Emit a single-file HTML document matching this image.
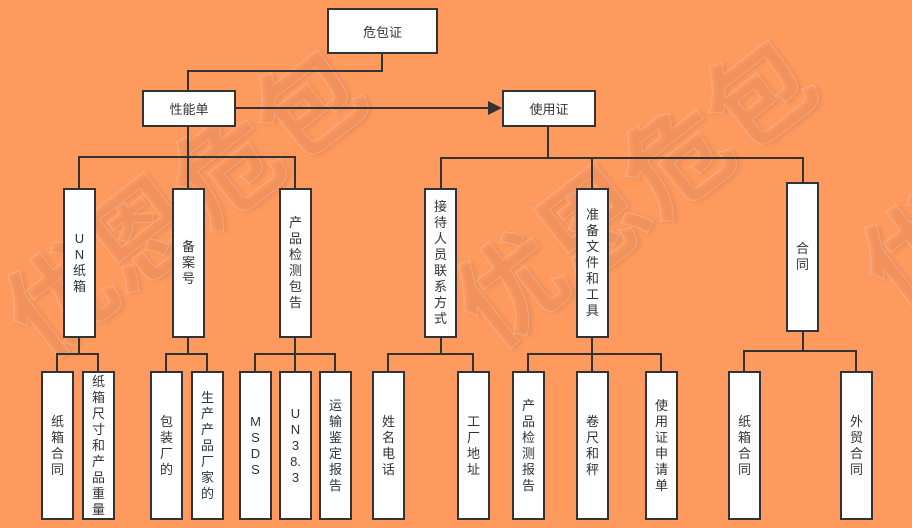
<!DOCTYPE html>
<html><head><meta charset="utf-8"><style>
body{margin:0;width:912px;height:528px;overflow:hidden;background:#FF9A5E;position:relative;font-family:"Liberation Sans","Noto Sans CJK SC",sans-serif;}
.b{position:absolute;background:#fff;border:2px solid #333;box-sizing:border-box;display:flex;align-items:center;justify-content:center;color:#333;font-size:13px;}
.v{flex-direction:column;line-height:16px;font-size:13px;text-align:center}
.h{position:absolute;background:#333;height:2px}
.l{position:absolute;background:#333;width:2px}
.wm{position:absolute;font-size:105px;font-weight:bold;color:rgba(255,160,110,0.3);-webkit-text-stroke:1px rgba(235,215,205,0.35);text-shadow:2px 3px 4px rgba(120,60,30,0.15);transform:rotate(-38deg);white-space:nowrap;font-family:"Noto Sans CJK SC",sans-serif;}
</style></head><body>
<div class="wm" style="left:-30px;top:120px">优恩危包</div>
<div class="wm" style="left:420px;top:110px">优恩危包</div>
<div class="wm" style="left:860px;top:170px">优</div>

<!-- connectors -->
<div class="l" style="left:381px;top:53px;height:19px"></div>
<div class="h" style="left:187px;top:70px;width:196px"></div>
<div class="l" style="left:187px;top:70px;height:20px"></div>
<div class="h" style="left:235px;top:107px;width:256px"></div>
<svg style="position:absolute;left:488px;top:101px" width="14" height="14"><polygon points="0,0 14,7 0,14" fill="#333"/></svg>

<div class="l" style="left:187px;top:126px;height:31px"></div>
<div class="h" style="left:78px;top:156px;width:218px"></div>
<div class="l" style="left:78px;top:156px;height:32px"></div>
<div class="l" style="left:187px;top:156px;height:32px"></div>
<div class="l" style="left:294px;top:156px;height:32px"></div>

<div class="l" style="left:547px;top:126px;height:32px"></div>
<div class="h" style="left:440px;top:157px;width:364px"></div>
<div class="l" style="left:440px;top:157px;height:31px"></div>
<div class="l" style="left:591px;top:157px;height:31px"></div>
<div class="l" style="left:802px;top:157px;height:25px"></div>

<div class="l" style="left:78px;top:337px;height:17px"></div>
<div class="h" style="left:56px;top:353px;width:43px"></div>
<div class="l" style="left:56px;top:353px;height:18px"></div>
<div class="l" style="left:97px;top:353px;height:18px"></div>

<div class="l" style="left:187px;top:337px;height:17px"></div>
<div class="h" style="left:165px;top:353px;width:43px"></div>
<div class="l" style="left:165px;top:353px;height:18px"></div>
<div class="l" style="left:206px;top:353px;height:18px"></div>

<div class="l" style="left:294px;top:337px;height:34px"></div>
<div class="h" style="left:254px;top:353px;width:82px"></div>
<div class="l" style="left:254px;top:353px;height:18px"></div>
<div class="l" style="left:334px;top:353px;height:18px"></div>

<div class="l" style="left:440px;top:337px;height:17px"></div>
<div class="h" style="left:387px;top:353px;width:87px"></div>
<div class="l" style="left:387px;top:353px;height:18px"></div>
<div class="l" style="left:472px;top:353px;height:18px"></div>

<div class="l" style="left:591px;top:337px;height:34px"></div>
<div class="h" style="left:527px;top:353px;width:135px"></div>
<div class="l" style="left:527px;top:353px;height:18px"></div>
<div class="l" style="left:660px;top:353px;height:18px"></div>

<div class="l" style="left:802px;top:331px;height:20px"></div>
<div class="h" style="left:743px;top:350px;width:114px"></div>
<div class="l" style="left:743px;top:350px;height:21px"></div>
<div class="l" style="left:855px;top:350px;height:21px"></div>

<!-- boxes -->
<div class="b" style="left:327px;top:8px;width:111px;height:46px">危包证</div>
<div class="b" style="left:142px;top:90px;width:94px;height:37px">性能单</div>
<div class="b" style="left:502px;top:90px;width:94px;height:37px">使用证</div>

<div class="b v" style="left:63px;top:188px;width:33px;height:150px"><span>U</span><span>N</span><span>纸</span><span>箱</span></div>
<div class="b v" style="left:172px;top:188px;width:33px;height:150px"><span>备</span><span>案</span><span>号</span></div>
<div class="b v" style="left:279px;top:188px;width:33px;height:150px"><span>产</span><span>品</span><span>检</span><span>测</span><span>包</span><span>告</span></div>
<div class="b v" style="left:424px;top:188px;width:33px;height:150px"><span>接</span><span>待</span><span>人</span><span>员</span><span>联</span><span>系</span><span>方</span><span>式</span></div>
<div class="b v" style="left:576px;top:188px;width:33px;height:150px"><span>准</span><span>备</span><span>文</span><span>件</span><span>和</span><span>工</span><span>具</span></div>
<div class="b v" style="left:786px;top:182px;width:33px;height:150px"><span>合</span><span>同</span></div>

<div class="b v" style="left:41px;top:371px;width:33px;height:149px"><span>纸</span><span>箱</span><span>合</span><span>同</span></div>
<div class="b v" style="left:82px;top:371px;width:33px;height:149px"><span>纸</span><span>箱</span><span>尺</span><span>寸</span><span>和</span><span>产</span><span>品</span><span>重</span><span>量</span></div>
<div class="b v" style="left:150px;top:371px;width:33px;height:149px"><span>包</span><span>装</span><span>厂</span><span>的</span></div>
<div class="b v" style="left:191px;top:371px;width:33px;height:149px"><span>生</span><span>产</span><span>产</span><span>品</span><span>厂</span><span>家</span><span>的</span></div>
<div class="b v" style="left:239px;top:371px;width:33px;height:149px"><span>M</span><span>S</span><span>D</span><span>S</span></div>
<div class="b v" style="left:279px;top:371px;width:33px;height:149px"><span>U</span><span>N</span><span>3</span><span>8.</span><span>3</span></div>
<div class="b v" style="left:319px;top:371px;width:33px;height:149px"><span>运</span><span>输</span><span>鉴</span><span>定</span><span>报</span><span>告</span></div>
<div class="b v" style="left:372px;top:371px;width:33px;height:149px"><span>姓</span><span>名</span><span>电</span><span>话</span></div>
<div class="b v" style="left:457px;top:371px;width:33px;height:149px"><span>工</span><span>厂</span><span>地</span><span>址</span></div>
<div class="b v" style="left:512px;top:371px;width:33px;height:149px"><span>产</span><span>品</span><span>检</span><span>测</span><span>报</span><span>告</span></div>
<div class="b v" style="left:576px;top:371px;width:33px;height:149px"><span>卷</span><span>尺</span><span>和</span><span>秤</span></div>
<div class="b v" style="left:645px;top:371px;width:33px;height:149px"><span>使</span><span>用</span><span>证</span><span>申</span><span>请</span><span>单</span></div>
<div class="b v" style="left:728px;top:371px;width:33px;height:149px"><span>纸</span><span>箱</span><span>合</span><span>同</span></div>
<div class="b v" style="left:840px;top:371px;width:33px;height:149px"><span>外</span><span>贸</span><span>合</span><span>同</span></div>
</body></html>
